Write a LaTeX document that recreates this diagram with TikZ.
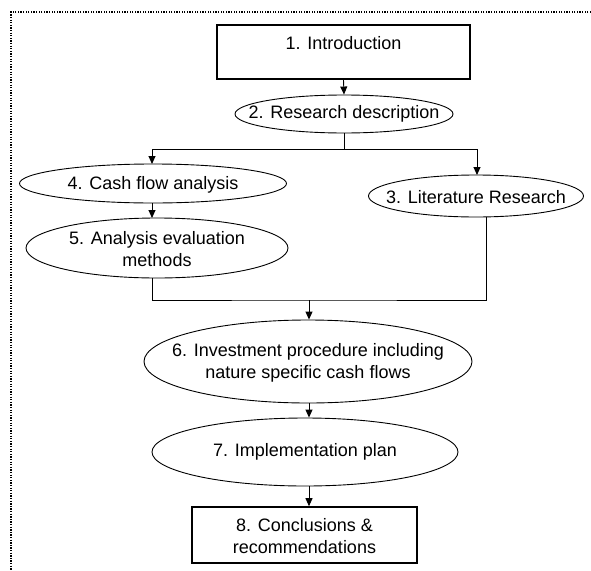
\documentclass[tikz,border=0pt]{standalone}
\usepackage{fontspec}
\setmainfont{Liberation Sans}
\usetikzlibrary{arrows.meta,calc,shapes.geometric}
\begin{document}
\begin{tikzpicture}[x=1pt,y=-1pt,
  oval/.style={draw, ellipse, line width=0.9pt, inner sep=0pt},
  boxa/.style={draw, rectangle, line width=2.2pt, inner sep=0pt},
  boxb/.style={draw, rectangle, line width=1.6pt, inner sep=0pt},
  txt/.style={inner sep=0pt, align=center, font=\fontsize{18}{22}\selectfont},
  conn/.style={line width=0.9pt},
  arr/.style={conn, -{Triangle[length=8pt,width=7pt]}},
  frame/.style={line width=1.4pt, dash pattern=on 1.3pt off 1.3pt}
]
\useasboundingbox (0,0) rectangle (591,570);
% frame
\coordinate (fc) at (11,12);
\coordinate (fr) at (591,12);
\coordinate (fb) at (11,570);
\draw[frame] (fr) -- (fc) -- (fb);

% nodes
\node[boxa, minimum width=253pt, minimum height=54pt] (b1) at (343.5,52) {};
\node[txt] (t1) at (343.5,43) {1. Introduction};

\node[oval, minimum width=218pt, minimum height=38pt] (e2) at (344,114) {};
\node[txt] (t2) at (344,114) {2. Research description};

\node[oval, minimum width=267pt, minimum height=39pt] (e4) at (153,183.5) {};
\node[txt] (t4) at (153,184.5) {4. Cash flow analysis};

\node[oval, minimum width=215pt, minimum height=42pt] (e3) at (476,196) {};
\node[txt] (t3) at (476,197) {3. Literature Research};

\node[oval, minimum width=262pt, minimum height=60pt] (e5) at (157,248) {};
\node[txt] (t5) at (157,249.5) {5. Analysis evaluation\\methods};

\node[oval, minimum width=328pt, minimum height=83pt] (e6) at (308,361.5) {};
\node[txt] (t6) at (308,362.5) {6. Investment procedure including\\nature specific cash flows};

\node[oval, minimum width=306pt, minimum height=68pt] (e7) at (305,452) {};
\node[txt] (t7) at (305,452) {7. Implementation plan};

\node[boxb, minimum width=225pt, minimum height=56pt] (b8) at (304.5,535) {};
\node[txt] (t8) at (304.5,536) {8. Conclusions \&\\recommendations};

% connectors
\draw[arr] (b1.south) -- (e2.north);
\coordinate (s) at (344,149);
\draw[conn] (e2.south) -- (s);
\draw[arr] (s) -| (152,164) coordinate (e4in);
\draw[arr] (s) -| (477,175) coordinate (e3in);
\coordinate (e5top) at (152,218);
\coordinate (e4out) at (152,203);
\draw[arr] (e4out) -- (e5top);
\coordinate (j) at (309,300);
\coordinate (e5out) at (152,278);
\coordinate (e3out) at (486,217);
\draw[conn] (e5out) |- (j) -| (e3out);
\draw[arr] (j) -- (j |- e6.north);
\draw[arr] (j |- e6.south) -- (j |- e7.north);
\draw[arr] (j |- e7.south) -- (j |- b8.north);
\end{tikzpicture}
\end{document}
